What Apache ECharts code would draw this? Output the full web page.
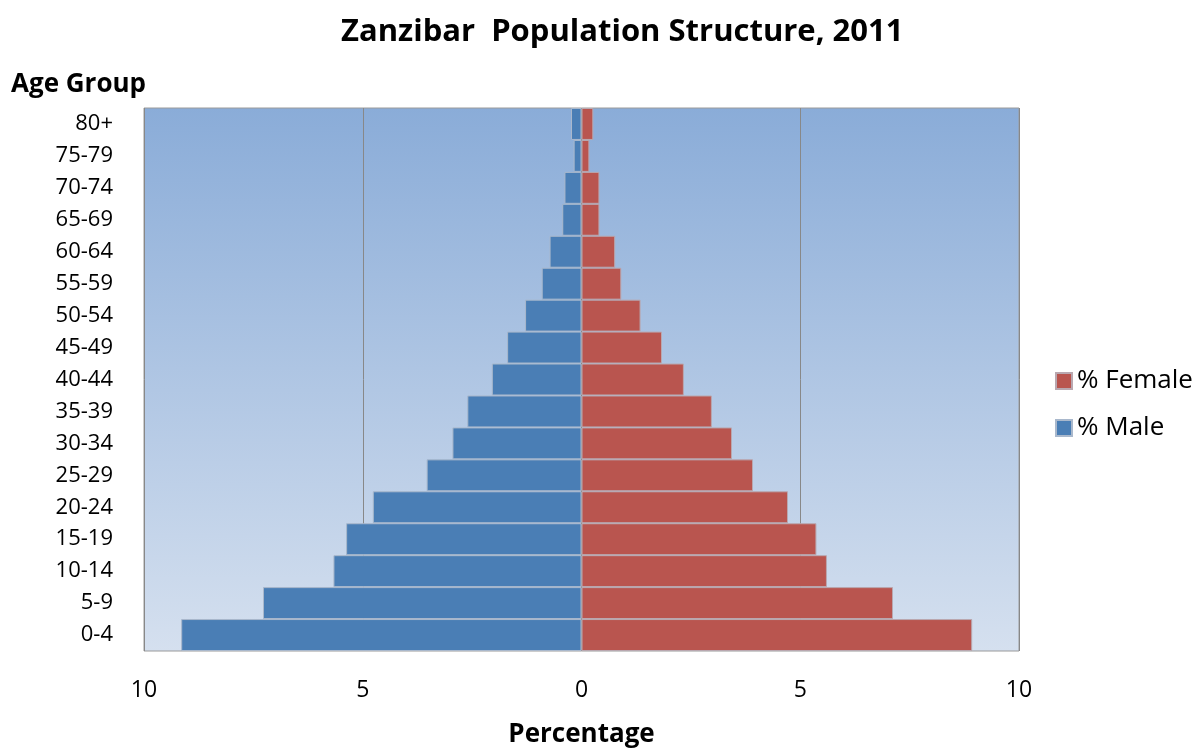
<!DOCTYPE html>
<html><head><meta charset="utf-8">
<script src="https://cdn.jsdelivr.net/npm/echarts@6/dist/echarts.min.js"></script>
<style>html,body{margin:0;padding:0;background:#fff;overflow:hidden}#c{width:1204px;height:753px}</style>
</head><body><div id="c"></div>
<script>
const ageGroups = ['0-4','5-9','10-14','15-19','20-24','25-29','30-34','35-39','40-44','45-49','50-54','55-59','60-64','65-69','70-74','75-79','80+'];
const malePct = [9.15,7.28,5.67,5.38,4.77,3.54,2.95,2.61,2.05,1.70,1.29,0.91,0.73,0.44,0.39,0.18,0.24];
const femalePct = [8.93,7.12,5.61,5.37,4.72,3.92,3.44,2.98,2.34,1.84,1.35,0.91,0.77,0.41,0.41,0.18,0.27];
const xTicks = [-10,-5,0,5,10];

const FONT = '"Open Sans"';
const chart = echarts.init(document.getElementById('c'));
chart.setOption({
  animation:false,
  textStyle:{fontFamily:FONT,color:'#000'},
  title:[
    {text:'Zanzibar  Population Structure, 2011',left:341,top:17,padding:0,textStyle:{fontFamily:FONT,fontSize:31,fontWeight:'bold',color:'#000'}},
    {text:'Age Group',left:11,top:72,padding:0,textStyle:{fontFamily:FONT,fontSize:26,fontWeight:'bold',color:'#000'}}
  ],
  legend:{
    orient:'vertical',left:1055,top:368,padding:0,
    data:['% Female','% Male'],
    itemWidth:16,itemHeight:16,itemGap:21,
    textStyle:{fontFamily:FONT,fontSize:26,color:'#000'},
    icon:'rect'
  },
  grid:{left:144,right:185,top:108,bottom:97,show:true,borderColor:'#9a9a9a',borderWidth:1,
    backgroundColor:{type:'linear',x:0,y:0,x2:0,y2:1,colorStops:[{offset:0,color:'#8AACD8'},{offset:1,color:'#D5E0EF'}]}},
  xAxis:{
    type:'value',min:xTicks[0],max:xTicks[xTicks.length-1],interval:5,
    name:'Percentage',nameLocation:'middle',nameGap:71,
    nameTextStyle:{fontFamily:FONT,fontSize:26,fontWeight:'bold',color:'#000'},
    axisLine:{show:false},axisTick:{show:false},
    axisLabel:{formatter:v=>String(Math.abs(v)),fontFamily:FONT,fontSize:23,color:'#000',margin:28},
    splitLine:{show:true,lineStyle:{color:'#888',width:1}}
  },
  yAxis:{
    type:'category',data:ageGroups,
    axisLine:{show:false},axisTick:{show:false},
    axisLabel:{fontFamily:FONT,fontSize:22,color:'#000',margin:31}
  },
  series:[
    {name:'% Male',type:'bar',stack:'pop',barCategoryGap:0,
      data:malePct.map(v=>-v),
      itemStyle:{color:'#4A7EB5',borderColor:'#A9B8CC',borderWidth:1}},
    {name:'% Female',type:'bar',stack:'pop',barCategoryGap:0,
      data:femalePct,
      itemStyle:{color:'#B9554F',borderColor:'#B9A8B0',borderWidth:1}}
  ]
});
</script></body></html>
